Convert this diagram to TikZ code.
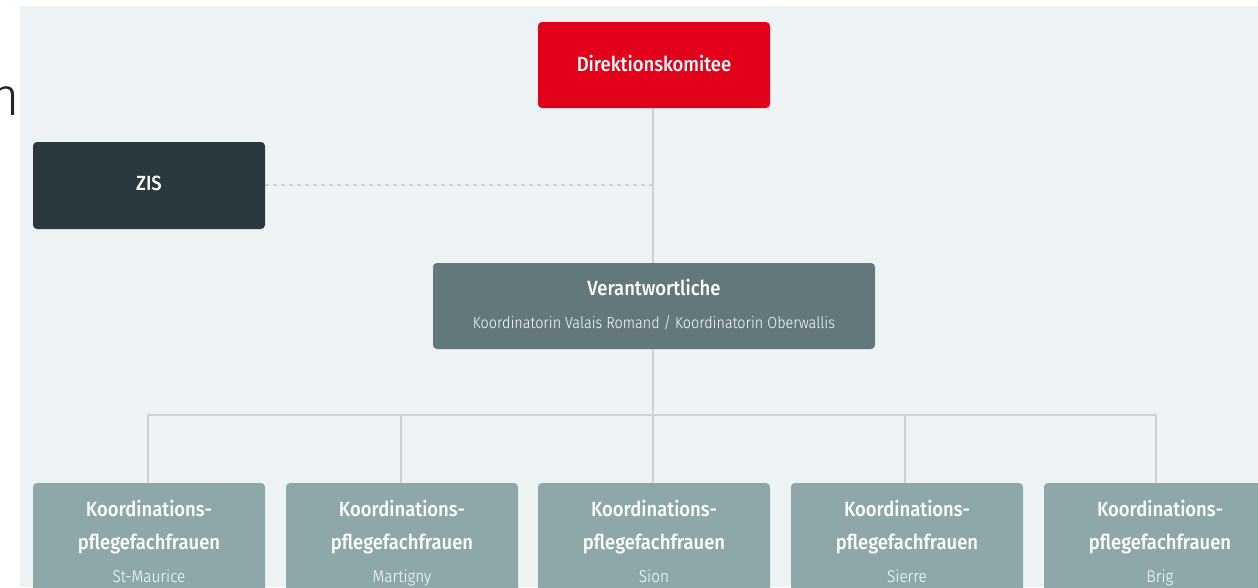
\documentclass[tikz,border=0pt]{standalone}
\usepackage{fontspec}
\setmainfont{Fira Sans}
\newfontfamily\hdfont{Fira Sans}[UprightFont={* Medium}, FakeStretch=0.9]
\newfontfamily\ltfont{Fira Sans}[UprightFont={* Light}, FakeStretch=0.9]
\newfontfamily\bigfont{Fira Sans}[UprightFont={* Light}]
\definecolor{bgc}{HTML}{EDF2F5}
\definecolor{redc}{HTML}{E2001A}
\definecolor{darkc}{HTML}{2A393D}
\definecolor{midc}{HTML}{62787B}
\definecolor{lightc}{HTML}{8EA8AA}
\definecolor{linec}{HTML}{CDD1D3}
\tikzset{
  box/.style={rounded corners=4pt, inner sep=0pt, draw=none},
  hd/.style={text=white, font=\hdfont\fontsize{20.5}{21}\selectfont, anchor=base, inner sep=0pt},
  sub/.style={text=white, font=\ltfont\fontsize{17}{18}\selectfont, anchor=base, inner sep=0pt},
  conn/.style={draw=linec, line width=2pt},
  dotconn/.style={draw=linec, line width=2pt, dash pattern=on 4pt off 4pt},
}
\begin{document}
\begin{tikzpicture}[x=1pt, y=-1pt]
\useasboundingbox (0,0) rectangle (1258,587);
\clip (0,0) rectangle (1258,587);
\fill[white] (0,0) rectangle (1258,587);
\fill[bgc] (20,6) rectangle (1258,587);
\node[anchor=base east, inner sep=0pt, text=black!85, font=\bigfont\fontsize{54}{54}\selectfont] (cut) at (20,115) {n};
% connectors
\coordinate (zisend) at (653,185);
\coordinate (bus) at (653,415);
\draw[conn] (653,108) -- (653,263);
\draw[dotconn] (265,185) -- (zisend);
\draw[conn] (653,349) -- (bus);
\draw[conn] (148,483) -- (148,415) -- (1156,415) -- (1156,483);
\foreach \x in {401,653,905} { \draw[conn] (\x,415) -- (\x,483); }
% boxes
\fill[redc, box] (538,22) rectangle (770,108);
\node[hd] (dk) at (654,71) {Direktionskomitee};
\fill[darkc, box] (33,142) rectangle (265,229);
\node[hd] (zis) at (149,190) {ZIS};
\fill[midc, box] (433,263) rectangle (875,349);
\node[hd] (ver) at (654,295) {Verantwortliche};
\node[sub, font=\ltfont\fontsize{16}{17}\selectfont] (vsub) at (654,328) {Koordinatorin Valais Romand / Koordinatorin Oberwallis};
\foreach \l/\c/\n in {33/149/St-Maurice, 286/402/Martigny, 538/654/Sion, 791/907/Sierre, 1044/1160/Brig} {
  \fill[lightc, box] (\l,483) rectangle ++(232,130);
  \node[hd] at (\c,516) {Koordinations-};
  \node[hd] at (\c,549) {pflegefachfrauen};
  \node[sub] at (\c,582) {\n};
}
\end{tikzpicture}
\end{document}
